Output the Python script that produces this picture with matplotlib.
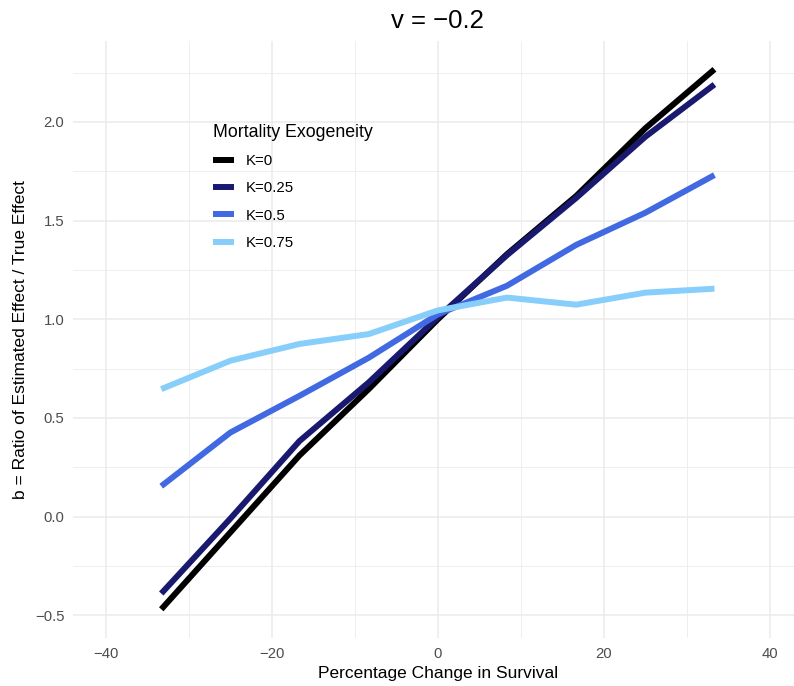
import matplotlib
matplotlib.use("Agg")
import matplotlib.pyplot as plt
from matplotlib.ticker import MultipleLocator, FuncFormatter

plt.rcParams['font.family'] = ['Liberation Sans', 'DejaVu Sans']

x_vals = [-33.33, -25.0, -16.67, -8.33, 0.0, 8.33, 16.67, 25.0, 33.33]
k0    = [-0.47, -0.08, 0.31, 0.646, 1.00, 1.33, 1.625, 1.968, 2.267]
k025  = [-0.39, -0.01, 0.383, 0.68, 1.01, 1.325, 1.615, 1.925, 2.19]
k05   = [0.154, 0.426, 0.612, 0.805, 1.025, 1.17, 1.377, 1.54, 1.731]
k075  = [0.646, 0.79, 0.875, 0.925, 1.045, 1.11, 1.074, 1.135, 1.155]

labels = ["K=0", "K=0.25", "K=0.5", "K=0.75"]
colors = ["#000000", "#191970", "#4169E1", "#87CEFA"]
series = [k0, k025, k05, k075]

W, H = 794, 686
fig = plt.figure(figsize=(W/100, H/100), dpi=100)
left, right, top, bottom = 72.7, 803.0, 40.7, 638.3
ax = fig.add_axes([left/W, 1 - bottom/H, (right-left)/W, (bottom-top)/H])

for ys, c, lab in zip(series, colors, labels):
    ax.plot(x_vals, ys, color=c, lw=4.3, label=lab, solid_capstyle='butt', zorder=3)

ax.set_xlim(-44, 44)
ax.set_ylim(-0.617, 2.412)
ax.xaxis.set_major_locator(MultipleLocator(20))
ax.xaxis.set_minor_locator(MultipleLocator(10))
ax.yaxis.set_major_locator(MultipleLocator(0.5))
ax.yaxis.set_minor_locator(MultipleLocator(0.25))
ax.yaxis.set_major_formatter(FuncFormatter(lambda v, p: f"{v:.1f}".replace('-', '\u2212')))
ax.xaxis.set_major_formatter(FuncFormatter(lambda v, p: f"{v:.0f}".replace('-', '\u2212')))

ax.grid(which='major', color='#EBEBEB', lw=1.1, zorder=0)
ax.grid(which='minor', color='#EBEBEB', lw=0.6, zorder=0)
ax.set_axisbelow(True)
for s in ax.spines.values():
    s.set_visible(False)
ax.tick_params(which='both', length=0)
ax.tick_params(axis='both', labelsize=10.7, labelcolor='#4D4D4D', pad=6.0)

ax.set_xlabel("Percentage Change in Survival", fontsize=12.5, labelpad=4)
ax.set_ylabel("b = Ratio of Estimated Effect / True Effect", fontsize=12.5, labelpad=5)
ax.set_title("v = \u22120.2", fontsize=18.5, pad=9)

leg = ax.legend(title="Mortality Exogeneity", loc='upper left',
                bbox_to_anchor=((207 - left)/(right-left), 1 - (118-top)/(bottom-top)),
                frameon=False, fontsize=10.8, title_fontsize=12.8,
                handlelength=1.4, handletextpad=0.8, labelspacing=0.88,
                alignment='left', borderaxespad=0)
for h in leg.legend_handles:
    h.set_linewidth(4.3)

fig.savefig("out.png", dpi=100)
